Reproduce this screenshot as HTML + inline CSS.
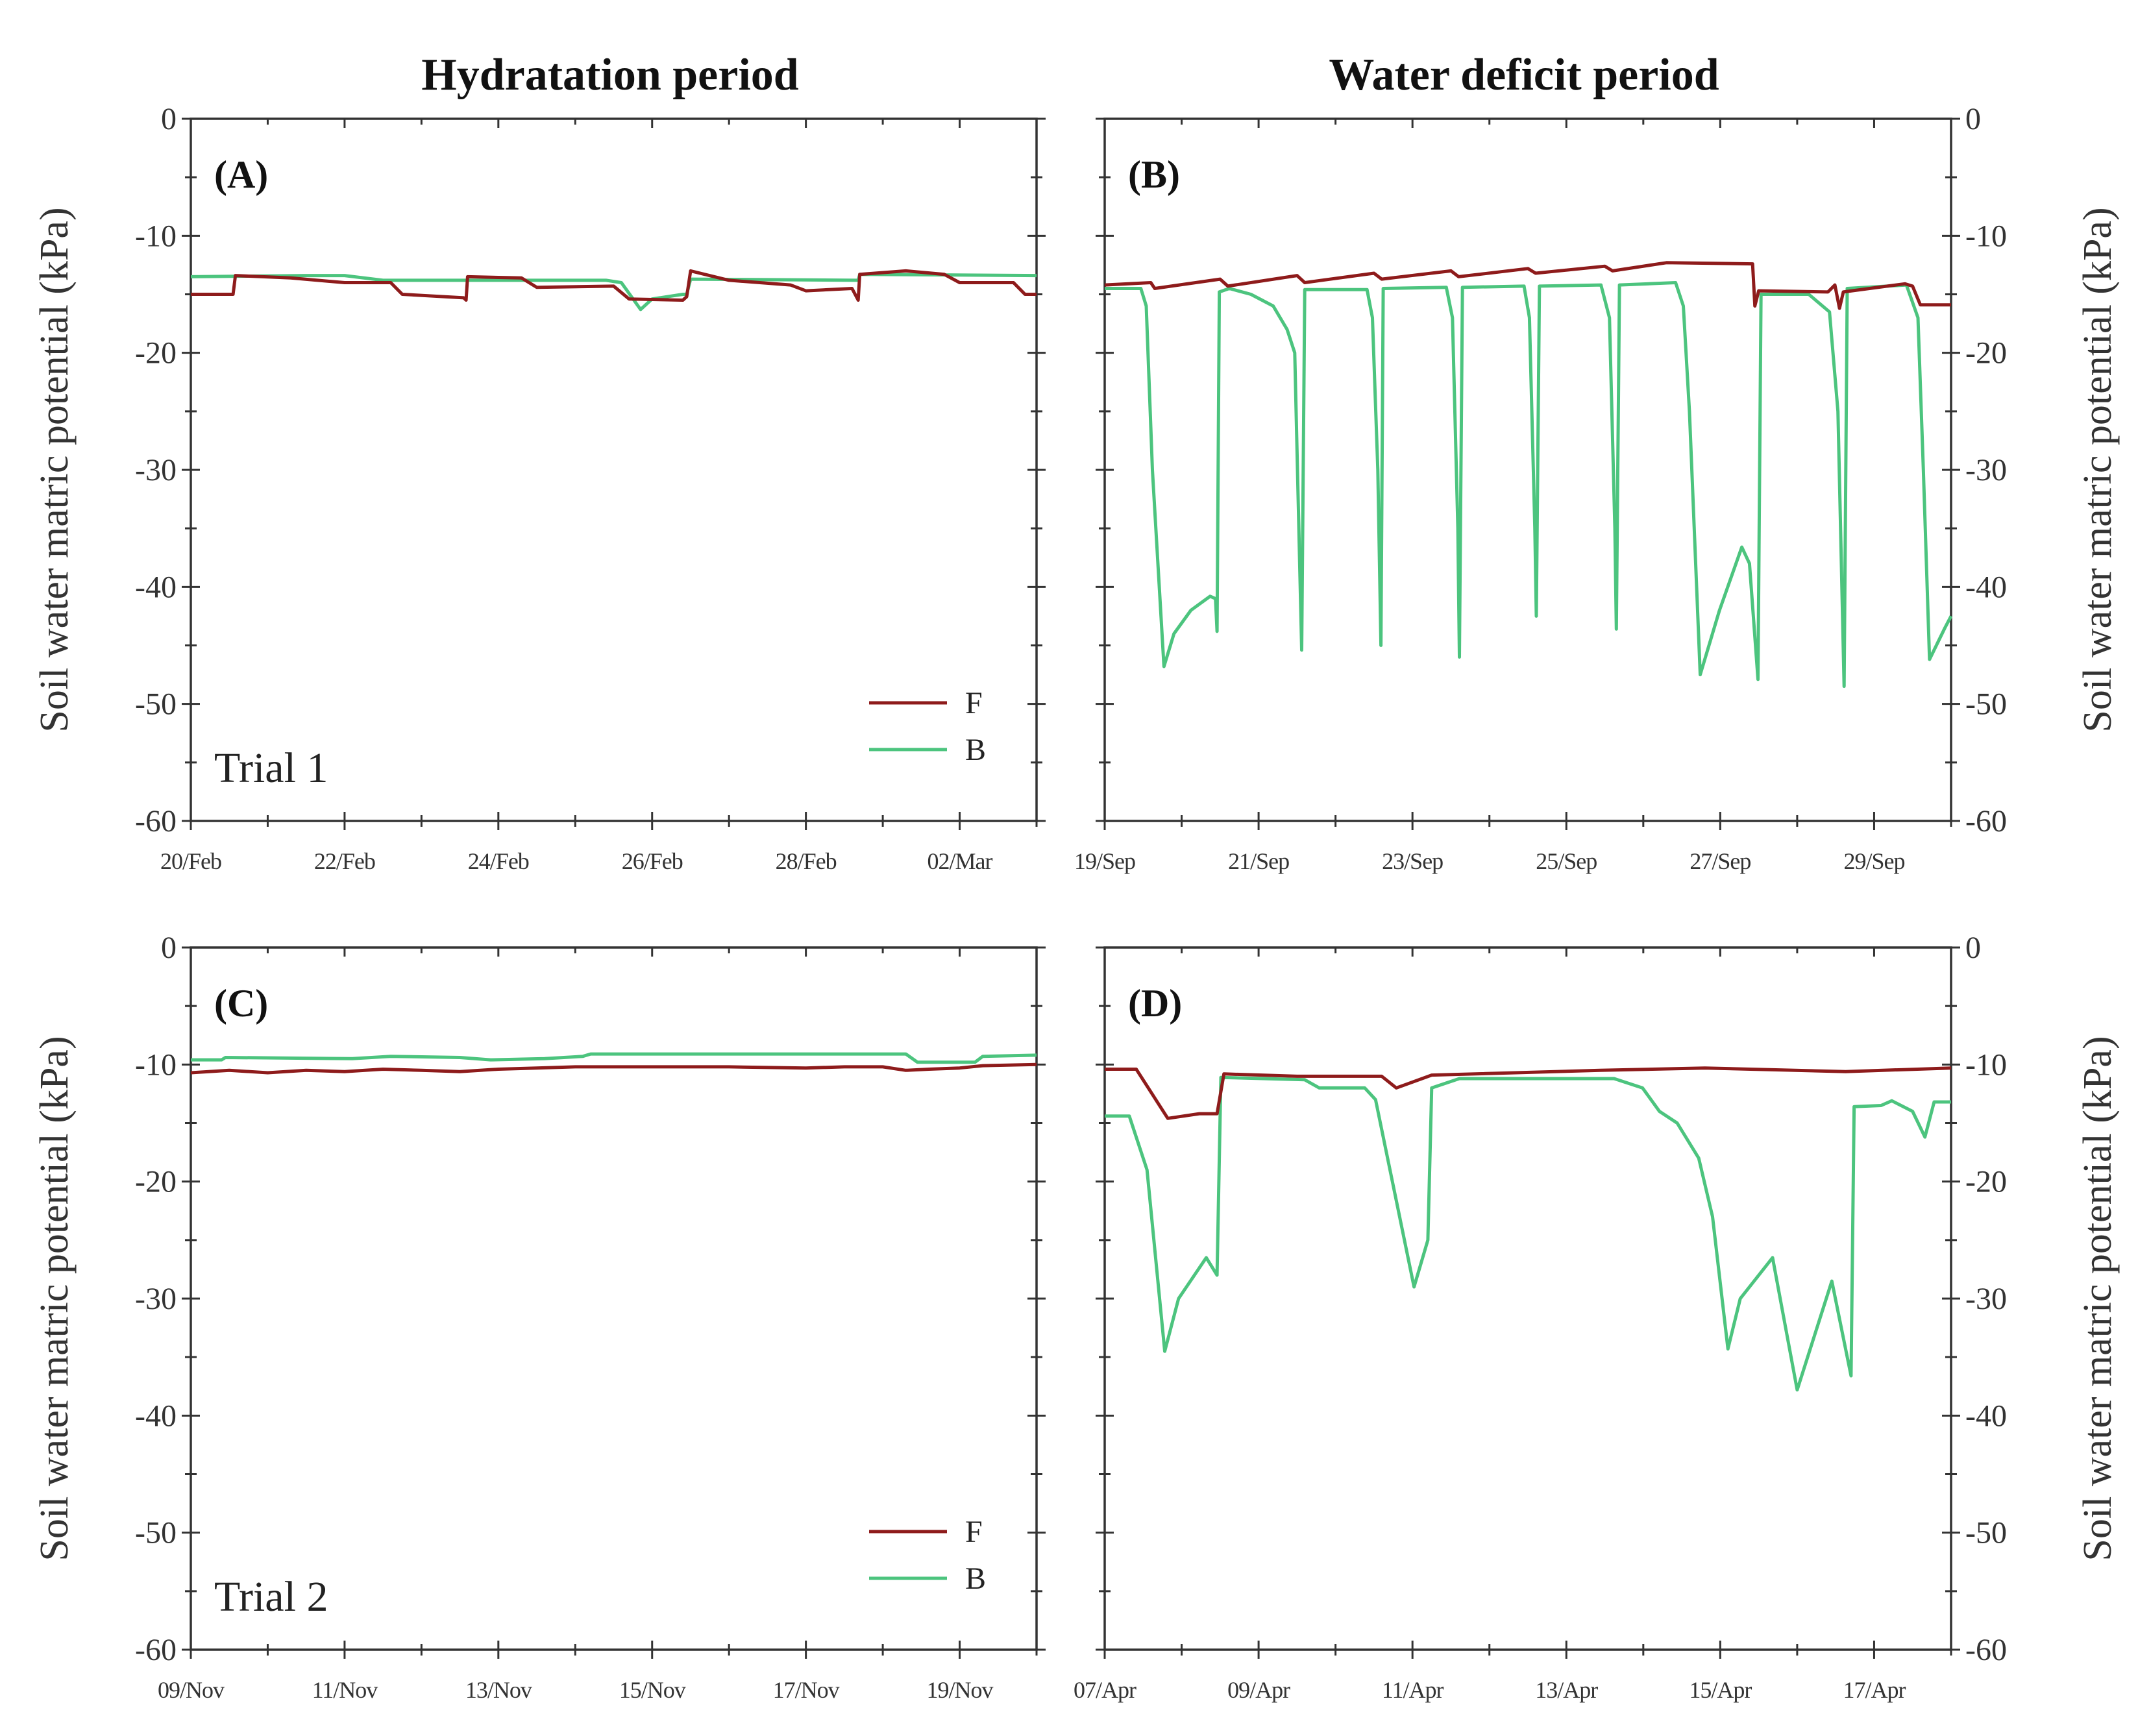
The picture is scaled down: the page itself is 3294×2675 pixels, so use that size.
<!DOCTYPE html>
<html><head><meta charset="utf-8"><style>
html,body{margin:0;padding:0;background:#fff;}
svg{display:block;font-family:"Liberation Serif",serif;}
</style></head><body>
<svg id="fig" width="3294" height="2675" viewBox="0 0 3294 2675" xmlns="http://www.w3.org/2000/svg">
<text x="940" y="138" font-size="70" font-weight="bold" text-anchor="middle" fill="#111">Hydratation period</text>
<text x="2348" y="138" font-size="70" font-weight="bold" text-anchor="middle" fill="#111">Water deficit period</text>
</svg>
<script>
// ---- data (day offset from first tick, value kPa) ----
const xLabelsA = ["20/Feb","22/Feb","24/Feb","26/Feb","28/Feb","02/Mar"];
const xLabelsB = ["19/Sep","21/Sep","23/Sep","25/Sep","27/Sep","29/Sep"];
const xLabelsC = ["09/Nov","11/Nov","13/Nov","15/Nov","17/Nov","19/Nov"];
const xLabelsD = ["07/Apr","09/Apr","11/Apr","13/Apr","15/Apr","17/Apr"];
const yTicks = [0,-10,-20,-30,-40,-50,-60];

const aF_days = [0,0.55,0.58,1.3,2.0,2.6,2.75,3.55,3.58,3.6,4.3,4.5,5.5,5.7,6.4,6.45,6.5,7.0,7.8,8.0,8.6,8.68,8.7,9.3,9.8,10.0,10.7,10.85,11];
const aF_vals = [-15,-15,-13.4,-13.6,-14,-14,-15,-15.3,-15.5,-13.5,-13.6,-14.4,-14.3,-15.4,-15.5,-15.2,-13,-13.8,-14.2,-14.7,-14.5,-15.5,-13.3,-13,-13.3,-14,-14,-15,-15];
const aB_days = [0,1.5,2.0,2.5,5.4,5.6,5.85,6.0,6.4,6.45,6.5,8.68,8.7,11];
const aB_vals = [-13.5,-13.4,-13.4,-13.8,-13.8,-14,-16.3,-15.4,-15,-15,-13.7,-13.8,-13.3,-13.4];

const bF_days = [0,0.6,0.65,1.5,1.6,2.5,2.6,3.5,3.6,4.5,4.6,5.5,5.6,6.5,6.6,7.3,8.42,8.45,8.5,9.4,9.49,9.55,9.6,10.4,10.5,10.6,11];
const bF_vals = [-14.2,-14,-14.5,-13.7,-14.3,-13.4,-14,-13.2,-13.7,-13,-13.5,-12.8,-13.2,-12.6,-13,-12.3,-12.4,-16,-14.7,-14.8,-14.2,-16.2,-14.8,-14.1,-14.3,-15.9,-15.9];
const bB_days = [0,0.47,0.54,0.62,0.77,0.9,1.12,1.37,1.44,1.46,1.49,1.62,1.9,2.19,2.37,2.47,2.56,2.6,3.41,3.48,3.55,3.59,3.62,4.44,4.52,4.59,4.61,4.65,5.45,5.52,5.59,5.61,5.65,6.45,6.56,6.63,6.65,6.69,7.42,7.52,7.6,7.74,7.99,8.28,8.38,8.49,8.53,9.15,9.42,9.53,9.61,9.65,10.42,10.57,10.64,10.72,10.92,11];
const bB_vals = [-14.5,-14.5,-16,-30,-46.8,-44,-42,-40.8,-41,-43.8,-14.8,-14.5,-15,-16,-18,-20,-45.4,-14.6,-14.6,-17,-30,-45,-14.5,-14.4,-17,-35,-46,-14.4,-14.3,-17,-35,-42.5,-14.3,-14.2,-17,-35,-43.6,-14.2,-14,-16,-25,-47.5,-42,-36.6,-38,-47.9,-15,-15,-16.5,-25,-48.5,-14.5,-14.2,-17,-30,-46.2,-43.5,-42.5];

const cF_days = [0,0.5,1,1.5,2,2.5,3,3.5,4,4.5,5,6,7,8,8.5,9,9.3,9.6,10,10.3,11];
const cF_vals = [-10.7,-10.5,-10.7,-10.5,-10.6,-10.4,-10.5,-10.6,-10.4,-10.3,-10.2,-10.2,-10.2,-10.3,-10.2,-10.2,-10.5,-10.4,-10.3,-10.1,-10];
const cB_days = [0,0.4,0.45,2.1,2.6,3.5,3.9,4.6,5.1,5.2,9.3,9.45,10.2,10.3,11];
const cB_vals = [-9.6,-9.6,-9.4,-9.5,-9.3,-9.4,-9.6,-9.5,-9.3,-9.1,-9.1,-9.8,-9.8,-9.3,-9.2];

const dF_days = [0,0.41,0.82,1.23,1.46,1.55,2.5,3.6,3.79,4.25,6.44,7.8,9.63,11];
const dF_vals = [-10.4,-10.4,-14.6,-14.2,-14.2,-10.8,-11,-11,-12,-10.9,-10.5,-10.3,-10.6,-10.3];
const dB_days = [0,0.32,0.55,0.78,0.96,1.32,1.46,1.51,2.6,2.79,3.38,3.52,4.02,4.2,4.25,4.61,6.62,6.99,7.21,7.44,7.72,7.9,8.1,8.26,8.68,9.0,9.45,9.7,9.74,10.09,10.23,10.5,10.66,10.78,11];
const dB_vals = [-14.4,-14.4,-19,-34.5,-30,-26.5,-28,-11.1,-11.3,-12,-12,-13,-29,-25,-12,-11.2,-11.2,-12,-14,-15,-18,-23,-34.3,-30,-26.5,-37.8,-28.5,-36.6,-13.6,-13.5,-13.1,-14,-16.2,-13.2,-13.2];

// ---- drawing ----
const NS="http://www.w3.org/2000/svg";
const svg=document.getElementById('fig');
function mk(tag,attrs,parent){const e=document.createElementNS(NS,tag);for(const k in attrs)e.setAttribute(k,attrs[k]);(parent||svg).appendChild(e);return e;}
const RED="#8e1b1b", GREEN="#4cc47e", AX="#333";

function panel(id,x0,y0,w,h,xLabels,Fd,Fv,Bd,Bv,yLabSide,letter,trial){
  const g=mk('g',{});
  
  
  const xs=d=>x0+d*w/11, ys=v=>y0+(-v)*h/60;
  for(let v=0;v>=-60;v-=5){
    const L=(v%10===0)?14:9;
    mk('line',{x1:x0-L,y1:ys(v),x2:x0+L,y2:ys(v),stroke:AX,'stroke-width':3},g);
    mk('line',{x1:x0+w-L,y1:ys(v),x2:x0+w+L,y2:ys(v),stroke:AX,'stroke-width':3},g);
  }
  for(let d=0;d<=11;d++){
    const L=(d%2===0)?14:9;
    mk('line',{x1:xs(d),y1:y0+h-L,x2:xs(d),y2:y0+h+L,stroke:AX,'stroke-width':3},g);
    mk('line',{x1:xs(d),y1:y0,x2:xs(d),y2:y0+L,stroke:AX,'stroke-width':3},g);
  }
  const fr=mk('rect',{x:x0,y:y0,width:w,height:h,fill:'none',stroke:AX,'stroke-width':3.5},g);
  
  
  xLabels.forEach((t,i)=>{
    const e=mk('text',{x:xs(i*2),y:y0+h+74,'font-size':36,'text-anchor':'middle',fill:'#333','letter-spacing':'-1'},g);
    e.textContent=t;
    
    
  });
  yTicks.forEach(v=>{
    const e=mk('text',{x:yLabSide==='left'?x0-22:x0+w+22,y:ys(v)+16,'font-size':48,'text-anchor':yLabSide==='left'?'end':'start',fill:'#333'},g);
    e.textContent=String(v);
    
    
  });
  const tx=yLabSide==='left'?84:3232, ty=y0+h/2;
  const yt=mk('text',{x:tx,y:ty,'font-size':62,'text-anchor':'middle',fill:'#333',transform:`rotate(-90 ${tx} ${ty})`,dy:'20'},g);
  yt.textContent='Soil water matric potential (kPa)';
  
  
  const lt=mk('text',{x:x0+36,y:y0+106,'font-size':60,'font-weight':'bold',fill:'#111'},g);
  lt.textContent=letter;
  
  
  const pts=(D,V)=>D.map((d,i)=>xs(d).toFixed(1)+','+ys(V[i]).toFixed(1)).join(' ');
  const pb=mk('polyline',{points:pts(Bd,Bv),fill:'none',stroke:GREEN,'stroke-width':5,'stroke-linejoin':'round'},g);
  
  
  const pf=mk('polyline',{points:pts(Fd,Fv),fill:'none',stroke:RED,'stroke-width':5,'stroke-linejoin':'round'},g);
  
  
  if(trial){
    const tt=mk('text',{x:x0+36,y:y0+h-60,'font-size':66,fill:'#222'},g);
    tt.textContent=trial;
    
    
    const lx=x0+w-258, ly1=y0+h-182, ly2=y0+h-110;
    const l1=mk('line',{x1:lx,y1:ly1,x2:lx+120,y2:ly1,stroke:RED,'stroke-width':5},g);
    
    
    const t1=mk('text',{x:lx+148,y:ly1+16,'font-size':48,fill:'#222'},g);
    t1.textContent='F';
    
    
    const l2=mk('line',{x1:lx,y1:ly2,x2:lx+120,y2:ly2,stroke:GREEN,'stroke-width':5},g);
    
    
    const t2=mk('text',{x:lx+148,y:ly2+16,'font-size':48,fill:'#222'},g);
    t2.textContent='B';
    
    
  }
}
panel('a',294,183,1303,1082,xLabelsA,aF_days,aF_vals,aB_days,aB_vals,'left','(A)','Trial 1');
panel('b',1702,183,1304,1082,xLabelsB,bF_days,bF_vals,bB_days,bB_vals,'right','(B)',null);
panel('c',294,1460,1303,1082,xLabelsC,cF_days,cF_vals,cB_days,cB_vals,'left','(C)','Trial 2');
panel('d',1702,1460,1304,1082,xLabelsD,dF_days,dF_vals,dB_days,dB_vals,'right','(D)',null);
</script>
</body></html>
